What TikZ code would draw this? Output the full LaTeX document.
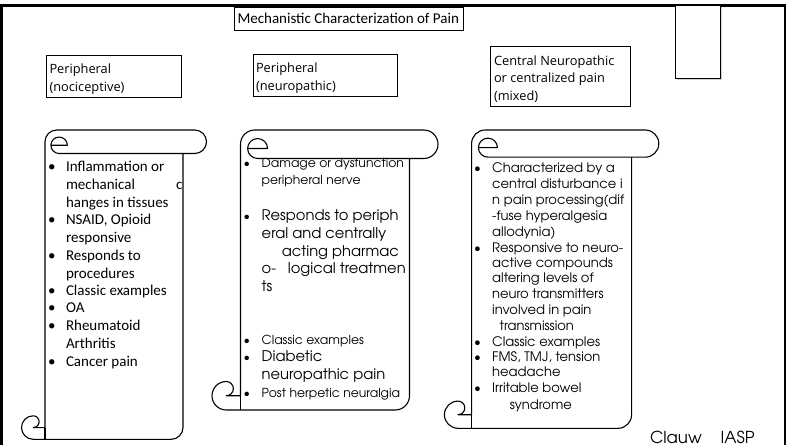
\documentclass[tikz,border=0pt]{standalone}
\usepackage{fontspec}
\setmainfont{Carlito}
\newfontfamily\hdrfont{Open Sans}
\newfontfamily\cgfont{TeX Gyre Adventor}
\newcommand\drawscroll[5]{%
  \pgfmathsetmacro\scrL{#1}\pgfmathsetmacro\scrT{#2}%
  \pgfmathsetmacro\scrR{#3}\pgfmathsetmacro\scrB{#4}%
  \pgfmathsetmacro\scrC{#5}\pgfmathsetmacro\scrH{#5/2}\pgfmathsetmacro\scrQ{#5/4}%
  \pgfmathsetmacro\scrBL{#1+#5}\pgfmathsetmacro\scrBR{#3-#5}%
  \pgfmathsetmacro\scrER{0.35*#5}\pgfmathsetmacro\scrEX{#1+#5+0.6*#5}%
  \pgfmathsetmacro\scrEY{#2+#5-0.35*#5}%
  \draw[scrollline] (\scrBL,{\scrT+\scrH}) arc (180:270:\scrH)
    -- ({\scrR-\scrH},\scrT) arc (270:450:\scrH)
    -- (\scrBR,{\scrT+\scrC}) -- (\scrBR,{\scrB-\scrH}) arc (0:90:\scrH)
    -- ({\scrL+\scrH},\scrB) arc (90:270:\scrH) arc (-90:90:\scrQ)
    -- (\scrBL,{\scrB-\scrH}) -- cycle;
  \draw[scrollline,fill=none] (\scrBL,{\scrB-\scrH}) -- (\scrBL,\scrB);
  \draw[scrollline,fill=none] ({\scrEX-\scrER},\scrEY) -- ({\scrEX+\scrER},\scrEY)
    arc (0:-270:\scrER) -- (\scrBR,{\scrT+\scrC});
}
\tikzset{
  txt/.style={anchor=base west, inner sep=0pt, outer sep=0pt},
  sa/.style={txt, font=\fontsize{15bp}{18bp}\selectfont},
  sbs/.style={txt, font=\cgfont\fontsize{12.4bp}{15bp}\selectfont},
  sbl/.style={txt, font=\cgfont\fontsize{14.7bp}{17bp}\selectfont},
  scc/.style={txt, font=\cgfont\fontsize{13.1bp}{16bp}\selectfont},
  hd/.style={txt, font=\hdrfont\fontsize{12.8bp}{15bp}\selectfont},
  ttl/.style={txt, font=\fontsize{15bp}{18bp}\selectfont},
  boxline/.style={draw, line width=0.9bp},
  scrollline/.style={line width=1.1bp, fill=white, line join=round},
}
\begin{document}
\begin{tikzpicture}[x=1bp,y=-1bp]
\useasboundingbox (0,0) rectangle (789,445);
\fill[white] (0,0) rectangle (789,445);
% frame
\draw[line width=2.2bp] (1.5,460) -- (1.5,5.5) -- (785,5.5) -- (785,460);
% top right rectangle with soft shadow
\fill[black!18] (676.5,7) rectangle (721.5,79.8);
\draw[boxline,fill=white] (675,5.5) rectangle (720,78.3);
% title
\draw[line width=0.8bp] (234.5,7.3) rectangle (463,30);
\node[ttl] (title) at (237.5,24) {Mechanistic Characterization of Pain};
% header boxes
\draw[boxline] (46.3,55.3) rectangle (181.7,97.3);
\node[hd] (h1a) at (49.5,74) {Peripheral};
\node[hd] (h1b) at (49.5,91.4) {(nociceptive)};
\draw[boxline] (253,54.3) rectangle (397.6,96.3);
\node[hd] (h2a) at (256,73) {Peripheral};
\node[hd] (h2b) at (256,90.4) {(neuropathic)};
\draw[boxline] (490.7,46.3) rectangle (630.6,106.3);
\node[hd] (h3a) at (494,65.4) {Central Neuropathic};
\node[hd] (h3b) at (494,82.4) {or centralized pain};
\node[hd] (h3c) at (494,100.4) {(mixed)};
% scrolls
\drawscroll{21.5}{130}{206.5}{439.3}{23.5}
\drawscroll{212}{130}{438}{410}{28.5}
\drawscroll{444.4}{130}{658.8}{428.3}{27.2}
% scroll 1 text
\foreach \x/\y/\t [count=\i] in {66/171.5/{Inflammation or}, 66/189.5/{mechanical},
  176/189.5/{c}, 66/207.5/{hanges in tissues}, 66/225/{NSAID, Opioid},
  66/243/{responsive}, 66/260.5/{Responds to}, 66/278.5/{procedures},
  66/296/{Classic examples}, 66/313/{OA}, 66/331/{Rheumatoid},
  66/348.5/{Arthritis}, 66/367/{Cancer pain}}
  \node[sa, name=sa\i] at (\x,\y) {\t};
\foreach \y [count=\i] in {171.5,225,260.5,296,313,331,367}
  \node[sa, name=ba\i] at (48,\y) {•};
% scroll 2 text
\foreach \x/\y/\t [count=\i] in {261.7/167.5/{Damage or dysfunction},
  261.7/185/{peripheral nerve}, 261.7/345/{Classic examples},
  261.7/397.5/{Post herpetic neuralgia}}
  \node[sbs, name=sbs\i] at (\x,\y) {\t};
\foreach \x/\y/\t [count=\i] in {261.7/221/{Responds to periph},
  261.7/239/{eral and centrally}, 281.8/256.5/{acting pharmac},
  261.7/273.5/{o-}, 287.9/273.5/{logical treatmen}, 261.7/291.5/{ts},
  261.7/362/{Diabetic}, 261.7/380/{neuropathic pain}}
  \node[sbl, name=sbl\i] at (\x,\y) {\t};
\foreach \y [count=\i] in {167.5,221,345,362,397.5}
  \node[sbs, name=bb\i] at (243.5,\y) {•};
% scroll 3 text
\foreach \x/\y/\t [count=\i] in {492.2/172.8/{Characterized by a},
  492.2/188.8/{central disturbance i}, 492.2/204.5/{n pain processing(dif},
  492.2/220.2/{-fuse hyperalgesia}, 492.2/236.2/{allodynia)},
  492.2/252.2/{Responsive to neuro-}, 492.2/267.8/{active compounds},
  492.2/282.8/{altering levels of}, 492.2/298.8/{neuro transmitters},
  492.2/314.5/{involved in pain}, 499.7/330.2/{transmission},
  492.2/346.2/{Classic examples}, 492.2/361.8/{FMS, TMJ, tension},
  492.2/376.8/{headache}, 492.2/392.8/{Irritable bowel}, 509.8/409.5/{syndrome}}
  \node[scc, name=sc\i] at (\x,\y) {\t};
\foreach \y [count=\i] in {172.8,252.2,346.2,361.8,392.8}
  \node[scc, name=bc\i] at (474,\y) {•};
% credit
\node[txt, font=\cgfont\fontsize{16.5bp}{18bp}\selectfont] (credit) at (650,443) {Clauw\hspace{19bp}IASP};
\end{tikzpicture}
\end{document}
